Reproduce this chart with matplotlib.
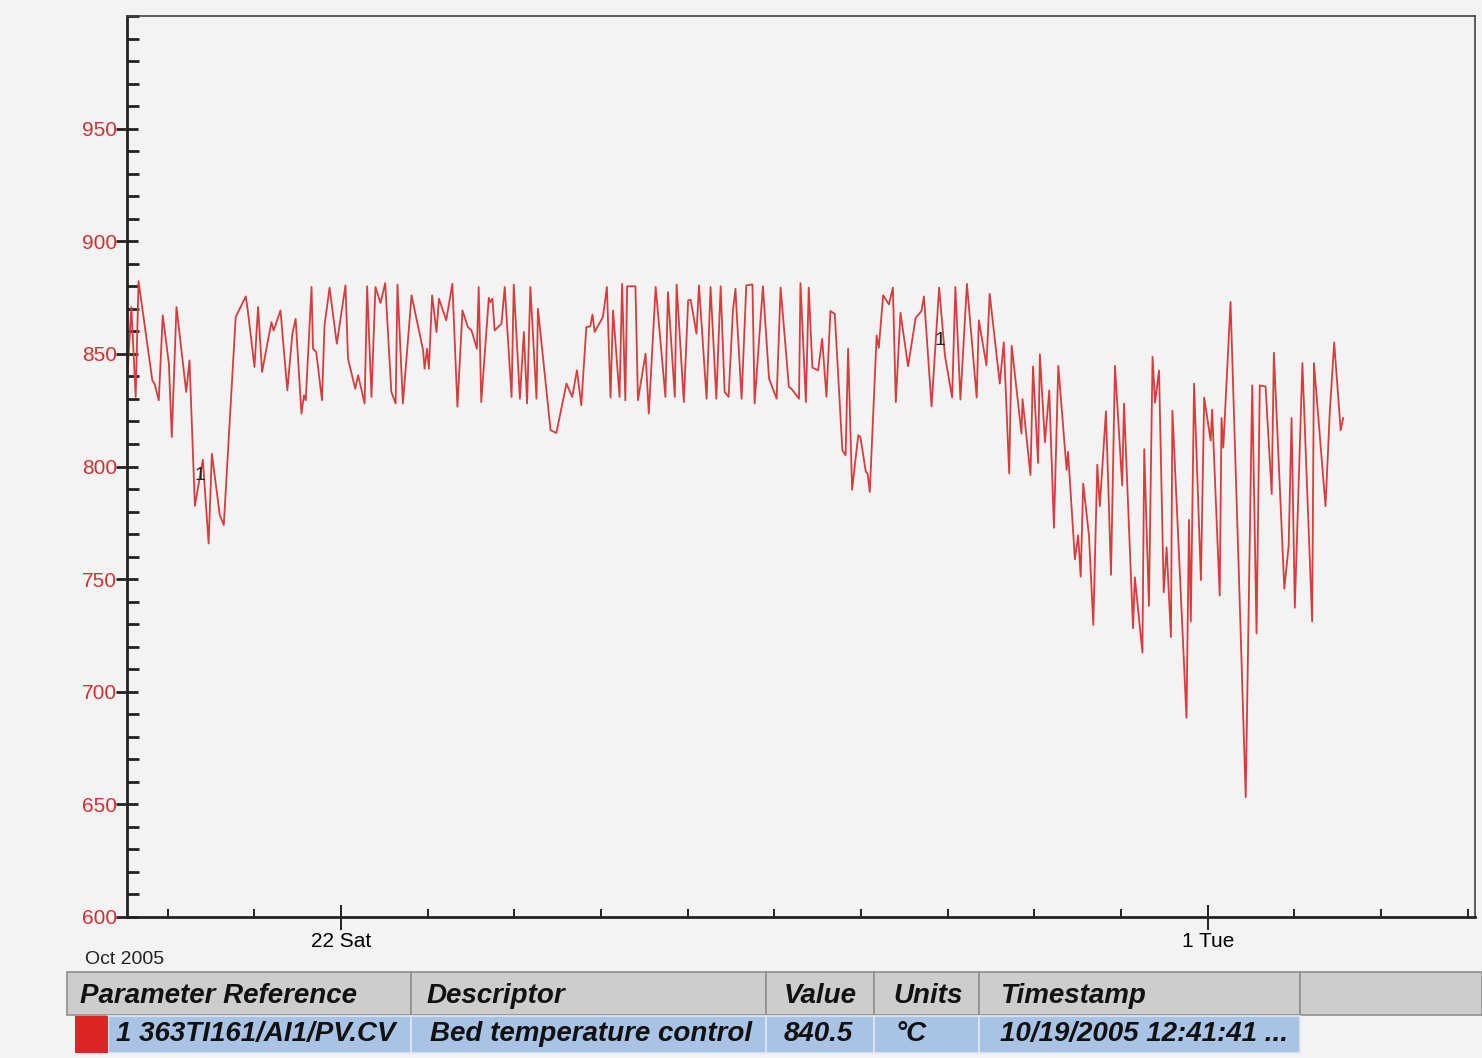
import datetime as dt
import matplotlib.pyplot as plt
import matplotlib.dates as mdates
from matplotlib.patches import Rectangle
from matplotlib.ticker import MultipleLocator, FixedLocator, NullFormatter

plt.rcParams['font.family'] = ['Liberation Sans', 'DejaVu Sans']

# trend data: hours since first sample, bed temperature in degC
start = dt.datetime(2005, 10, 19, 12, 41, 41)
hours = [
    0.0, 1.2, 2.4, 3.2, 7.0, 7.6, 8.8, 9.9, 11.6, 12.4, 13.7, 16.4, 17.3, 18.8,
    21.0, 22.6, 23.5, 25.7, 26.8, 30.1, 32.9, 33.5, 35.3, 36.3, 37.4, 40.0,
    40.6, 42.5, 44.4, 45.8, 46.7, 48.3, 49.0, 49.5, 51.1, 51.5, 52.4, 54.0,
    54.7, 56.1, 58.1, 60.5, 61.2, 63.2, 64.0, 65.8, 66.5, 67.7, 68.8, 70.2,
    71.5, 73.2, 74.4, 74.9, 76.4, 78.8, 82.0, 82.4, 83.1, 83.6, 84.5, 85.7,
    86.4, 88.4, 90.1, 91.5, 92.9, 94.4, 95.4, 96.9, 97.4, 98.1, 100.2, 100.6,
    101.2, 101.8, 103.7, 104.6, 106.5, 107.1, 108.8, 109.9, 110.8, 111.7,
    113.4, 113.8, 117.3, 118.9, 121.7, 123.3, 124.6, 125.8, 127.2, 128.3,
    128.9, 129.5, 131.8, 132.9, 133.9, 134.6, 136.4, 137.1, 138.0, 138.5,
    140.8, 141.5, 143.6, 144.5, 146.4, 149.1, 149.8, 151.7, 152.2, 154.2,
    155.4, 156.1, 157.7, 158.4, 160.5, 161.6, 163.2, 164.4, 165.5, 166.6,
    167.8, 168.5, 168.8, 170.2, 171.5, 173.2, 173.8, 176.1, 177.8, 179.9,
    181.0, 183.3, 184.0, 186.1, 186.5, 188.0, 188.8, 189.8, 191.4, 192.5,
    193.7, 194.8, 196.0, 198.1, 199.0, 199.7, 200.8, 202.5, 203.1, 204.6,
    205.1, 205.7, 207.6, 208.2, 209.4, 211.0, 212.1, 212.9, 214.2, 216.3,
    218.4, 220.0, 220.7, 222.8, 224.9, 226.5, 228.5, 229.4, 230.8, 232.6,
    235.3, 235.9, 238.0, 238.9, 241.7, 242.8, 244.3, 245.0, 247.7, 248.0,
    250.2, 250.9, 252.3, 252.8, 254.2, 255.4, 256.7, 257.9, 260.2, 260.6,
    262.5, 263.4, 264.1, 264.8, 266.4, 267.6, 268.7, 269.4, 271.1, 272.5,
    273.6, 275.6, 276.1, 278.6, 279.1, 281.2, 281.7, 283.0, 284.0, 284.7,
    285.8, 287.1, 287.9, 289.1, 289.5, 293.4, 294.1, 294.6, 295.5, 297.4,
    298.3, 300.1, 300.5, 302.6, 303.1, 303.6, 305.6, 309.8, 311.6, 312.8,
    313.7, 315.3, 317.0, 317.6, 320.5, 321.7, 322.5, 323.4, 325.5, 328.2,
    328.7, 331.9, 333.1, 334.3, 336.1, 336.8,
]
temps = [
    836.8, 870.8, 830.9, 882.3, 838.3, 836.9, 829.4, 867.1, 845.7, 813.1,
    870.8, 833.1, 847.1, 782.5, 803.0, 765.8, 805.7, 778.4, 774.0, 866.4,
    875.5, 868.6, 844.2, 870.8, 842.0, 864.1, 860.4, 869.3, 833.8, 859.0,
    865.6, 823.5, 831.6, 829.4, 879.7, 852.3, 850.8, 829.4, 862.7, 879.4,
    854.5, 880.4, 847.9, 834.5, 840.5, 828.0, 880.0, 830.9, 879.7, 872.6,
    881.4, 833.1, 828.0, 880.8, 828.0, 876.0, 851.6, 843.4, 852.3, 843.4,
    876.0, 859.7, 874.5, 864.9, 881.1, 826.5, 869.3, 861.9, 860.4, 852.3,
    879.7, 828.6, 874.9, 873.0, 874.5, 860.4, 863.4, 879.7, 830.9, 880.8,
    830.1, 859.7, 828.0, 879.7, 830.1, 870.0, 816.1, 814.9, 836.8, 830.9,
    842.7, 827.2, 861.9, 862.2, 867.5, 859.7, 866.4, 879.7, 830.6, 869.3,
    830.9, 881.1, 829.4, 880.0, 880.0, 829.4, 850.1, 823.5, 879.7, 830.9,
    877.4, 830.9, 880.8, 828.6, 873.8, 874.0, 859.0, 880.4, 830.1, 879.7,
    830.1, 880.0, 833.1, 830.9, 869.3, 878.9, 869.3, 830.1, 880.4, 880.8,
    828.0, 880.0, 839.0, 830.1, 879.4, 835.3, 834.5, 830.1, 881.4, 828.6,
    879.4, 843.9, 842.7, 856.7, 831.0, 869.0, 867.8, 807.2, 805.0, 852.3,
    789.7, 813.9, 813.1, 797.6, 796.8, 788.7, 858.2, 852.7, 876.0, 872.0,
    879.4, 828.6, 868.2, 844.5, 866.0, 869.0, 875.5, 826.7, 879.4, 849.4,
    830.6, 879.7, 829.7, 881.1, 830.6, 864.9, 844.9, 876.7, 836.8, 855.1,
    797.0, 853.6, 814.6, 829.9, 796.2, 844.4, 801.6, 849.8, 810.8, 833.7,
    772.8, 844.7, 798.5, 806.5, 758.8, 769.4, 751.1, 792.4, 769.4, 729.7,
    800.8, 782.4, 824.5, 751.9, 844.7, 791.6, 827.9, 728.2, 750.8, 717.4,
    807.7, 738.1, 848.7, 828.3, 842.6, 744.2, 764.1, 724.3, 824.8, 688.4,
    776.3, 731.2, 836.8, 749.6, 830.6, 811.5, 825.2, 742.7, 821.5, 808.4,
    873.1, 653.2, 836.0, 725.9, 836.0, 835.5, 787.8, 850.5, 745.7, 764.9,
    821.5, 737.3, 845.9, 731.2, 845.9, 782.4, 824.5, 855.1, 816.1, 821.5,
]
span_hours = 373.3
marker_hours = [20.1, 225.1]
marker_temps = [796, 856]

major_dates = [dt.datetime(2005, 10, 22), dt.datetime(2005, 11, 1)]
major_labels = ['22 Sat', '1 Tue']

headers = ['Parameter Reference', 'Descriptor', 'Value', 'Units', 'Timestamp']
row = ['1 363TI161/AI1/PV.CV', 'Bed temperature control', '840.5', '°C',
       '10/19/2005 12:41:41 ...']

times = [start + dt.timedelta(hours=h) for h in hours]

W, H = 1482, 1058
bg = '#f3f3f3'
fig = plt.figure(figsize=(W / 100, H / 100), dpi=100, facecolor=bg)
ax = fig.add_axes([127 / W, 1 - 917 / H, (1475 - 127) / W, (917 - 16) / H])
ax.set_facecolor(bg)

ax.plot(times, temps, color='#d93c3c', linewidth=1.3)
for h, t in zip(marker_hours, marker_temps):
    ax.text(start + dt.timedelta(hours=h), t, '1', fontsize=14, color='#222222',
            ha='center', va='center')

ax.set_xlim(start, start + dt.timedelta(hours=span_hours))
ax.set_ylim(600, 1000)

# y axis: red labels every 50, small ticks every 10
ax.yaxis.set_major_locator(FixedLocator([600, 650, 700, 750, 800, 850, 900, 950]))
ax.yaxis.set_minor_locator(MultipleLocator(10))
ax.tick_params(axis='y', which='major', direction='inout', length=16, width=2,
               color='#222222', labelcolor='#d62f2f', labelsize=15, pad=-1)
ax.tick_params(axis='y', which='minor', direction='in', length=8.5, width=2,
               color='#222222')

# x axis: day ticks, labelled 22 Sat and 1 Tue
ax.xaxis.set_major_locator(FixedLocator(mdates.date2num(major_dates)))
ax.set_xticklabels(major_labels)
ax.xaxis.set_minor_locator(mdates.DayLocator())
ax.xaxis.set_minor_formatter(NullFormatter())
ax.tick_params(axis='x', which='major', direction='inout', length=18, width=1.4,
               color='#222222', labelsize=15, pad=2)
ax.tick_params(axis='x', which='minor', direction='in', length=6, width=1.4,
               color='#222222')

for side in ['left', 'bottom']:
    ax.spines[side].set_linewidth(2)
    ax.spines[side].set_color('#222222')
for side in ['top', 'right']:
    ax.spines[side].set_linewidth(1.2)
    ax.spines[side].set_color('#444444')

fig.text(85 / W, 1 - 960 / H, 'Oct 2005', fontsize=14, color='#222222',
         ha='left', va='center')


def fx(px):
    return px / W


def fy(py):
    return 1 - py / H


# legend table under the chart
col_edges = [67, 411, 766, 874, 979, 1300, 1482]
for x0, x1 in zip(col_edges[:-1], col_edges[1:]):
    fig.add_artist(Rectangle((fx(x0), fy(1015)), fx(x1 - x0), (1015 - 972) / H,
                             transform=fig.transFigure, facecolor='#cdcdcd',
                             edgecolor='#8f8f8f', linewidth=1.2))
for x0, x1 in zip(col_edges[:-2], col_edges[1:-1]):
    left = 108 if x0 == 67 else x0
    fig.add_artist(Rectangle((fx(left), fy(1053)), fx(x1 - left), (1053 - 1016) / H,
                             transform=fig.transFigure, facecolor='#a8c3e3',
                             edgecolor='#dfe8f3', linewidth=1.2))
fig.add_artist(Rectangle((fx(75), fy(1053)), fx(33), (1053 - 1016) / H,
                         transform=fig.transFigure, facecolor='#dc2626',
                         edgecolor='none'))

head_x = [80, 427, 784, 893, 1000]
row_x = [116, 430, 784, 895, 1000]
for x, s in zip(head_x, headers):
    fig.text(fx(x), fy(996), s, fontsize=20, fontweight='bold', fontstyle='italic',
             color='#111111', ha='left', va='center')
for x, s in zip(row_x, row):
    fig.text(fx(x), fy(1034), s, fontsize=20, fontweight='bold', fontstyle='italic',
             color='#111111', ha='left', va='center')

plt.savefig('out.png', dpi=100, facecolor=bg)
